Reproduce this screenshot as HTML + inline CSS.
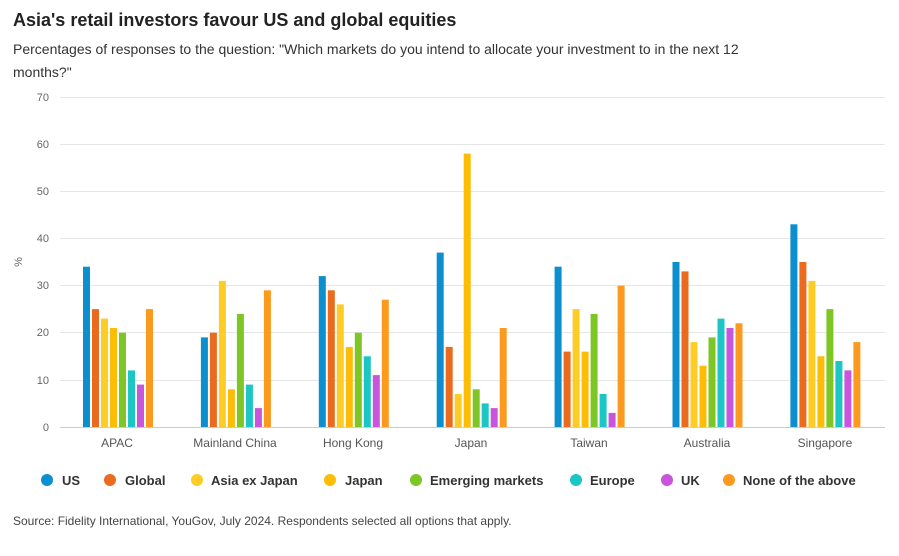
<!DOCTYPE html><html><head><style>body{margin:0;background:#fff;font-family:"Liberation Sans",Arial,sans-serif}</style></head><body>
<svg width="899" height="551" xmlns="http://www.w3.org/2000/svg" font-family="Liberation Sans, Arial, sans-serif">
<text x="13" y="26" font-size="18" font-weight="bold" fill="#222">Asia's retail investors favour US and global equities</text>
<text x="13" y="54" font-size="14" fill="#333">Percentages of responses to the question: "Which markets do you intend to allocate your investment to in the next 12</text>
<text x="13" y="77" font-size="14" fill="#333">months?"</text>
<g stroke="#e6e6e6" stroke-width="1">
<line x1="60" x2="885" y1="97.5" y2="97.5"/><line x1="60" x2="885" y1="144.5" y2="144.5"/><line x1="60" x2="885" y1="191.5" y2="191.5"/><line x1="60" x2="885" y1="238.5" y2="238.5"/><line x1="60" x2="885" y1="285.5" y2="285.5"/><line x1="60" x2="885" y1="332.5" y2="332.5"/><line x1="60" x2="885" y1="380.5" y2="380.5"/>
</g>
<line x1="60" x2="885" y1="427.5" y2="427.5" stroke="#ccc"/>
<g font-size="11" fill="#666" text-anchor="end">
<text x="49" y="101">70</text><text x="49" y="148">60</text><text x="49" y="195">50</text><text x="49" y="242">40</text><text x="49" y="289">30</text><text x="49" y="336">20</text><text x="49" y="384">10</text><text x="49" y="431">0</text>
</g>
<text x="22" y="262" font-size="11" fill="#666" transform="rotate(-90 22 262)" text-anchor="middle">%</text>
<g id="bars"></g>
<g font-size="12" fill="#555" text-anchor="middle">
<text x="117" y="447">APAC</text><text x="235" y="447">Mainland China</text><text x="353" y="447">Hong Kong</text><text x="471" y="447">Japan</text><text x="589" y="447">Taiwan</text><text x="707" y="447">Australia</text><text x="825" y="447">Singapore</text>
</g>
<g font-size="13" font-weight="bold" fill="#333">
<circle cx="47" cy="480" r="6" fill="#0b8fce"/><text x="62" y="485">US</text>
<circle cx="110" cy="480" r="6" fill="#ea6b1e"/><text x="125" y="485">Global</text>
<circle cx="197" cy="480" r="6" fill="#fdcd26"/><text x="211" y="485">Asia ex Japan</text>
<circle cx="330" cy="480" r="6" fill="#fdbc05"/><text x="345" y="485">Japan</text>
<circle cx="416" cy="480" r="6" fill="#7dc626"/><text x="430" y="485">Emerging markets</text>
<circle cx="576" cy="480" r="6" fill="#1bc6c4"/><text x="590" y="485">Europe</text>
<circle cx="667" cy="480" r="6" fill="#c955dd"/><text x="681" y="485">UK</text>
<circle cx="729" cy="480" r="6" fill="#fb9a1f"/><text x="743" y="485">None of the above</text>
</g>
<text x="13" y="525" font-size="12" fill="#444">Source: Fidelity International, YouGov, July 2024. Respondents selected all options that apply.</text>
</svg>
<script>
var d=[[34,25,23,21,20,12,9,25],[19,20,31,8,24,9,4,29],[32,29,26,17,20,15,11,27],[37,17,7,58,8,5,4,21],[34,16,25,16,24,7,3,30],[35,33,18,13,19,23,21,22],[43,35,31,15,25,14,12,18]];
var c=["#0b8fce","#ea6b1e","#fdcd26","#fdbc05","#7dc626","#1bc6c4","#c955dd","#fb9a1f"];
var g=document.getElementById("bars"),s="";
for(var i=0;i<7;i++)for(var j=0;j<8;j++){var x=83+i*117.9+j*9,h=d[i][j]*330/70;s+='<rect x="'+x.toFixed(1)+'" y="'+(427-h).toFixed(1)+'" width="7" height="'+h.toFixed(1)+'" fill="'+c[j]+'"/>';}
g.innerHTML=s;
</script>
</body></html>
